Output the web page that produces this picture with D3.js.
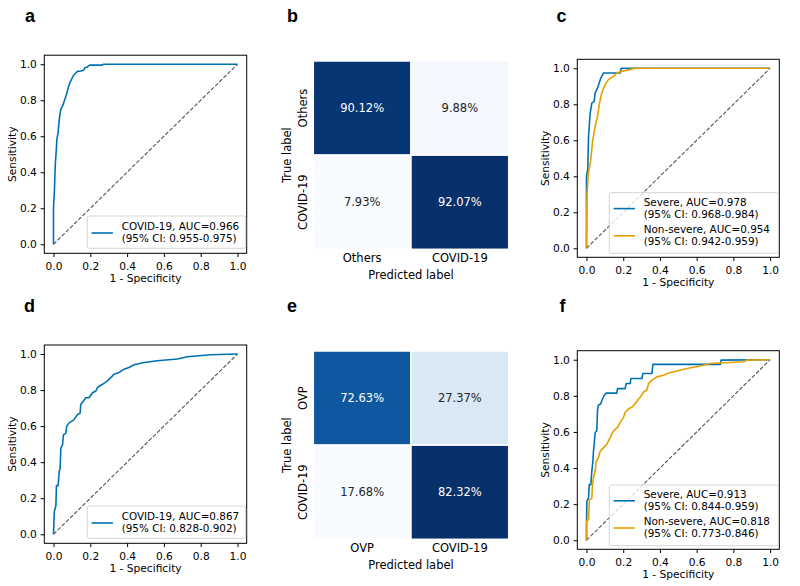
<!DOCTYPE html>
<html><head><meta charset="utf-8">
<script src="https://cdn.jsdelivr.net/npm/d3@7"></script>
<style>
html,body{margin:0;padding:0;background:#fff;}
svg{display:block;}
text{font-family:'DejaVu Sans',sans-serif;}
</style>
</head><body>
<svg id="fig" width="800" height="586"></svg>
<script>
// ---------------- DATA ----------------
const rocTicks = [0, 0.2, 0.4, 0.6, 0.8, 1.0];

// panel a : COVID-19 vs others
const aFpr = [0,0,0.005,0.01,0.015,0.018,0.025,0.03,0.035,0.04,0.05,0.06,0.07,0.08,0.09,0.10,0.11,0.12,0.13,0.15,0.165,0.17,0.185,0.19,0.20,0.265,0.27,1.0];
const aTpr = [0,0.2,0.3,0.45,0.52,0.58,0.62,0.68,0.72,0.75,0.77,0.80,0.83,0.87,0.90,0.92,0.94,0.95,0.96,0.962,0.968,0.98,0.985,0.992,0.995,0.995,1.0,1.0];
const aLegend = ["COVID-19, AUC=0.966", "(95% CI: 0.955-0.975)"];

// panel c : severe / non-severe
const cSevFpr = [0,0,0.007,0.011,0.02,0.029,0.042,0.047,0.06,0.069,0.078,0.093,0.183,0.189,1.0];
const cSevTpr = [0,0.40,0.44,0.62,0.75,0.807,0.816,0.862,0.89,0.918,0.946,0.974,0.974,1.0,1.0];
const cNonFpr = [0,0.003,0.011,0.023,0.034,0.047,0.06,0.071,0.083,0.101,0.12,0.147,0.165,0.193,0.265,1.0];
const cNonTpr = [0,0.30,0.42,0.49,0.60,0.676,0.732,0.807,0.862,0.909,0.937,0.955,0.974,0.983,1.0,1.0];
const cLegendSev = ["Severe, AUC=0.978", "(95% CI: 0.968-0.984)"];
const cLegendNon = ["Non-severe, AUC=0.954", "(95% CI: 0.942-0.959)"];

// panel d : COVID-19 vs OVP
const dFpr = [0,0.004,0.013,0.016,0.025,0.031,0.036,0.04,0.049,0.054,0.067,0.072,0.085,0.112,0.13,0.145,0.148,0.163,0.175,0.193,0.212,0.23,0.242,0.266,0.293,0.311,0.329,0.356,0.383,0.41,0.438,0.492,0.564,0.673,0.727,0.854,1.0];
const dTpr = [0,0.123,0.16,0.27,0.27,0.347,0.366,0.478,0.496,0.552,0.56,0.60,0.618,0.636,0.664,0.673,0.72,0.739,0.757,0.757,0.785,0.795,0.817,0.832,0.851,0.869,0.888,0.897,0.916,0.925,0.94,0.953,0.963,0.972,0.985,0.996,1.0];
const dLegend = ["COVID-19, AUC=0.867", "(95% CI: 0.828-0.902)"];

// panel f : severe / non-severe
const fSevFpr = [0,0,0.002,0.011,0.015,0.024,0.029,0.035,0.038,0.042,0.047,0.056,0.06,0.065,0.078,0.084,0.096,0.107,0.165,0.169,0.211,0.216,0.238,0.242,0.302,0.307,0.356,0.362,0.729,0.733,1.0];
const fSevTpr = [0,0.084,0.215,0.235,0.308,0.308,0.382,0.438,0.494,0.532,0.597,0.606,0.718,0.748,0.756,0.774,0.802,0.815,0.815,0.84,0.84,0.868,0.868,0.896,0.896,0.924,0.924,0.974,0.974,0.998,1.0];
const fNonFpr = [0,0.002,0.011,0.016,0.029,0.033,0.038,0.047,0.053,0.065,0.075,0.093,0.111,0.129,0.138,0.147,0.169,0.184,0.202,0.211,0.229,0.247,0.265,0.278,0.293,0.311,0.329,0.338,0.356,0.384,0.42,0.447,0.493,0.547,0.62,0.675,0.856,0.875,1.0];
const fNonTpr = [0,0.112,0.112,0.224,0.233,0.308,0.345,0.382,0.438,0.457,0.494,0.513,0.532,0.569,0.588,0.606,0.625,0.653,0.681,0.709,0.728,0.737,0.756,0.774,0.793,0.821,0.832,0.868,0.886,0.905,0.914,0.927,0.938,0.951,0.965,0.979,0.989,0.998,1.0];
const fLegendSev = ["Severe, AUC=0.913", "(95% CI: 0.844-0.959)"];
const fLegendNon = ["Non-severe, AUC=0.818", "(95% CI: 0.773-0.846)"];

// confusion matrices
const bRows = ["Others", "COVID-19"];
const bCols = ["Others", "COVID-19"];
const bValues = [[90.12, 9.88], [7.93, 92.07]];
const eRows = ["OVP", "COVID-19"];
const eCols = ["OVP", "COVID-19"];
const eValues = [[72.63, 27.37], [17.68, 82.32]];

const BLUE = "#0072B2", ORANGE = "#E69F00";
const FS = 10.65;
const LFS = 10.4;      // legend font size
const LSP = 12.2;      // legend line spacing

// ---------------- DRAW ----------------
const svg = d3.select("#fig");

function zip(a, b){ return a.map((v,i)=>[v, b[i]]); }

function rocPanel(o){
  const g = svg.append("g");
  const x = d3.scaleLinear().domain([-0.05, 1.05]).range([o.x0, o.x1]);
  const y = d3.scaleLinear().domain([-0.05, 1.05]).range([o.y1, o.y0]);
  // diagonal
  g.append("line")
    .attr("x1", x(0)).attr("y1", y(0)).attr("x2", x(1)).attr("y2", y(1))
    .attr("stroke", "#555").attr("stroke-width", 1.1)
    .attr("stroke-dasharray", "4,1.8");
  const line = d3.line().x(d=>x(d[0])).y(d=>y(d[1]));
  o.series.forEach(s=>{
    g.append("path").datum(zip(s.fpr, s.tpr))
      .attr("d", line).attr("fill","none")
      .attr("stroke", s.color).attr("stroke-width", 1.6)
      .attr("stroke-linejoin","round");
  });
  // frame
  g.append("rect").attr("x", o.x0).attr("y", o.y0)
    .attr("width", o.x1-o.x0).attr("height", o.y1-o.y0)
    .attr("fill","none").attr("stroke","#000").attr("stroke-width",1);
  // axes
  const xa = g.append("g").attr("transform",`translate(0,${o.y1})`)
    .call(d3.axisBottom(x).tickValues(rocTicks).tickFormat(d3.format(".1f")).tickSize(3.7).tickPadding(5.2));
  const ya = g.append("g").attr("transform",`translate(${o.x0},0)`)
    .call(d3.axisLeft(y).tickValues(rocTicks).tickFormat(d3.format(".1f")).tickSize(3.7).tickPadding(3.7));
  [xa, ya].forEach(a=>{
    a.select(".domain").remove();
    a.selectAll("line").attr("stroke","#000");
    a.selectAll("text").attr("font-size", FS).attr("fill","#000")
      .style("font-family","'DejaVu Sans',sans-serif");
  });
  g.append("text").attr("x", (o.x0+o.x1)/2).attr("y", o.y1+28.3)
    .attr("text-anchor","middle").attr("font-size",FS).text("1 - Specificity");
  g.append("text").attr("transform",`translate(${o.x0-28.3},${(o.y0+o.y1)/2}) rotate(-90)`)
    .attr("text-anchor","middle").attr("font-size",FS).text("Sensitivity");
  // legend
  const L = o.legend;
  g.append("rect").attr("x", L.x0).attr("y", L.y0)
    .attr("width", L.x1-L.x0).attr("height", L.y1-L.y0).attr("rx",2)
    .attr("fill","#fff").attr("fill-opacity",0.8).attr("stroke","#d0d0d0").attr("stroke-width",0.9);
  L.entries.forEach((en, i)=>{
    const cy = L.y0 + L.firstY + i*L.step;
    g.append("line").attr("x1", L.x0+4.3).attr("x2", L.x0+25.6)
      .attr("y1", cy+0.8).attr("y2", cy+0.8).attr("stroke", en.color).attr("stroke-width",1.6);
    en.text.forEach((s, j)=>{
      g.append("text").attr("font-size", LFS)
        .attr("x", L.x0+34.4).attr("y", cy - LSP/2 + j*LSP + 3.8).text(s);
    });
  });
}

function cmPanel(o){
  const g = svg.append("g");
  const flat = o.values.flat();
  const lo = d3.min(flat), hi = d3.max(flat);
  const color = d3.scaleSequential(d3.interpolateBlues).domain([lo, hi]);
  const x = d3.scaleBand().domain(o.cols).range([o.x0, o.x1]);
  const y = d3.scaleBand().domain(o.rows).range([o.y0, o.y1]);
  o.rows.forEach((r, i)=>{
    o.cols.forEach((c, j)=>{
      const v = o.values[i][j];
      const t = (v - lo)/(hi - lo);
      g.append("rect").attr("x", x(c)).attr("y", y(r))
        .attr("width", x.bandwidth()).attr("height", y.bandwidth())
        .attr("fill", color(v)).attr("stroke","#fff").attr("stroke-width",1.5);
      g.append("text").attr("x", x(c)+x.bandwidth()/2).attr("y", y(r)+y.bandwidth()/2+4.2)
        .attr("text-anchor","middle").attr("font-size",11.5)
        .attr("fill", t > 0.5 ? "#fff" : "#262626").text(v.toFixed(2)+"%");
    });
  });
  o.cols.forEach(c=>{
    g.append("text").attr("x", x(c)+x.bandwidth()/2).attr("y", o.y1+13)
      .attr("text-anchor","middle").attr("font-size",11.5).text(c);
  });
  o.rows.forEach(r=>{
    g.append("text").attr("transform",`translate(${o.x0-6},${y(r)+y.bandwidth()/2}) rotate(-90)`)
      .attr("text-anchor","middle").attr("font-size",11.5).text(r);
  });
  g.append("text").attr("x", (o.x0+o.x1)/2).attr("y", o.y1+30)
    .attr("text-anchor","middle").attr("font-size",11.5).text("Predicted label");
  g.append("text").attr("transform",`translate(${o.x0-22.5},${(o.y0+o.y1)/2}) rotate(-90)`)
    .attr("text-anchor","middle").attr("font-size",11.5).text("True label");
}

function letter(t, x, y){
  svg.append("text").attr("x", x).attr("y", y).attr("font-size", 18)
    .attr("font-weight","bold").style("font-family","'Liberation Sans',Arial,sans-serif").text(t);
}

rocPanel({x0:44.3, x1:246.7, y0:55.2, y1:253.3,
  series:[{fpr:aFpr, tpr:aTpr, color:BLUE}],
  legend:{x0:87.3, x1:245.7, y0:216, y1:248.3, firstY:16.2, step:22,
    entries:[{color:BLUE, text:aLegend}]}});
rocPanel({x0:577.3, x1:779.3, y0:59.3, y1:257.3,
  series:[{fpr:cSevFpr, tpr:cSevTpr, color:BLUE},{fpr:cNonFpr, tpr:cNonTpr, color:ORANGE}],
  legend:{x0:609.3, x1:778.3, y0:192.7, y1:253.3, firstY:15.1, step:27.2,
    entries:[{color:BLUE, text:cLegendSev},{color:ORANGE, text:cLegendNon}]}});
rocPanel({x0:44.3, x1:246.7, y0:345, y1:543.3,
  series:[{fpr:dFpr, tpr:dTpr, color:BLUE}],
  legend:{x0:87.3, x1:245.7, y0:506, y1:538.3, firstY:16.2, step:22,
    entries:[{color:BLUE, text:dLegend}]}});
rocPanel({x0:577.3, x1:779.3, y0:350.7, y1:549.3,
  series:[{fpr:fSevFpr, tpr:fSevTpr, color:BLUE},{fpr:fNonFpr, tpr:fNonTpr, color:ORANGE}],
  legend:{x0:609.3, x1:778.3, y0:485, y1:545.7, firstY:15.0, step:27.2,
    entries:[{color:BLUE, text:fLegendSev},{color:ORANGE, text:fLegendNon}]}});

cmPanel({x0:313.3, x1:508.7, y0:61, y1:249.3, rows:bRows, cols:bCols, values:bValues});
cmPanel({x0:313.3, x1:508.7, y0:351, y1:539.3, rows:eRows, cols:eCols, values:eValues});

letter("a", 25, 22); letter("b", 287, 22); letter("c", 556.5, 22);
letter("d", 24, 312); letter("e", 287, 312); letter("f", 559.5, 312);
</script>
</body></html>
